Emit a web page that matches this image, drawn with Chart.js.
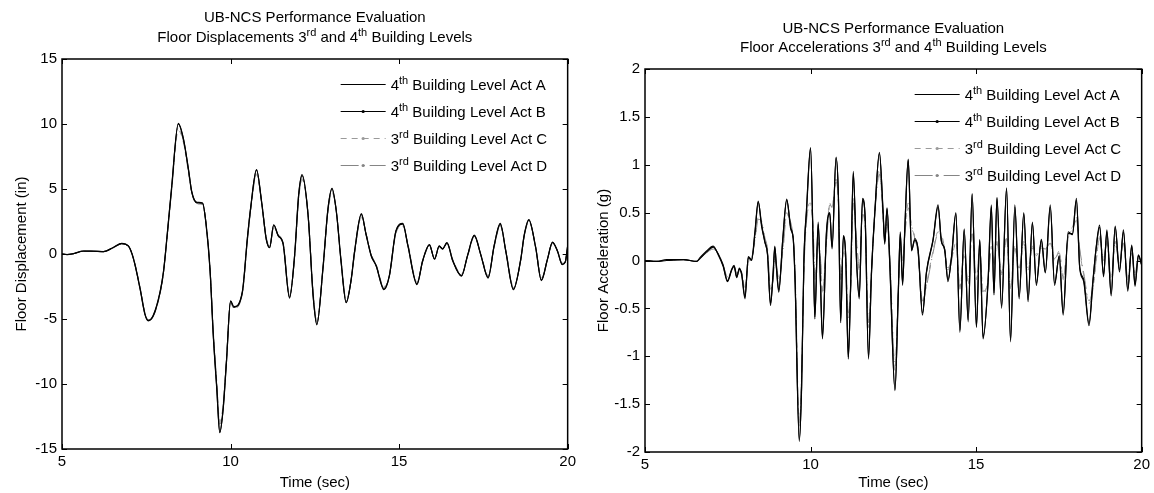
<!DOCTYPE html>
<html><head><meta charset="utf-8">
<script src="https://cdn.jsdelivr.net/npm/chart.js@4.4.1/dist/chart.umd.min.js"></script>
<style>
html,body{margin:0;padding:0;background:#fff;}
#wrap{position:relative;width:1154px;height:493px;overflow:hidden;background:#fff;}
canvas{position:absolute;top:0;}
#c1{left:0;} #c2{left:580px;}
</style></head><body>
<div id="wrap"><canvas id="c1" width="580" height="493"></canvas><canvas id="c2" width="574" height="493"></canvas></div>
<script>
// ---------------- DATA ----------------
const seriesLabels = ['4th Building Level Act A','4th Building Level Act B','3rd Building Level Act C','3rd Building Level Act D'];
const dispTitle = ['UB-NCS Performance Evaluation','Floor Displacements 3rd and 4th Building Levels'];
const accTitle  = ['UB-NCS Performance Evaluation','Floor Accelerations 3rd and 4th Building Levels'];
const xLabel = 'Time (sec)';
const dispYLabel = 'Floor Displacement (in)';
const accYLabel = 'Floor Acceleration (g)';
const xTicks = [5,10,15,20];
const xTickLabels = ['5','10','15','20'];
const dispYTicks = [-15,-10,-5,0,5,10,15];
const dispYTickLabels = ['-15','-10','-5','0','5','10','15'];
const accYTicks = [-2,-1.5,-1,-0.5,0,0.5,1,1.5,2];
const accYTickLabels = ['-2','-1.5','-1','-0.5','0','0.5','1','1.5','2'];

const dispTime = [
5.0,5.15,5.34,5.64,5.94,6.23,6.53,6.77,6.97,7.12,
7.32,7.46,7.56,7.71,7.91,8.01,8.11,8.25,8.45,8.6,
8.75,8.85,9.0,9.17,9.27,9.39,9.49,9.59,9.68,9.78,
9.88,10.0,10.1,10.35,10.5,10.6,10.77,10.92,11.06,11.16,
11.28,11.41,11.56,11.75,11.9,12.02,12.12,12.3,12.45,12.56,
12.74,12.89,13.01,13.14,13.28,13.43,13.58,13.68,13.88,14.02,
14.17,14.32,14.55,14.71,14.91,15.11,15.26,15.53,15.7,15.9,
16.05,16.19,16.29,16.42,16.59,16.85,17.03,17.23,17.43,17.64,
17.82,18.0,18.17,18.39,18.61,18.71,18.85,19.05,19.22,19.4,
19.55,19.7,19.84,19.93,20.0];
const dispActA = [
0,-0.05,0.02,0.22,0.22,0.18,0.5,0.8,0.62,-0.35,
-2.7,-4.6,-5.1,-4.75,-2.95,-1.4,1.15,5.0,10.0,8.85,
6.5,4.75,3.95,3.9,2.4,-1.15,-6.3,-10.2,-13.7,-11.9,
-8.2,-3.65,-4.1,-2.95,1.2,3.6,6.45,4.0,1.15,0.5,
2.23,1.41,0.77,-3.33,-0.13,4.49,6.03,2.95,-3.21,-5.4,
-1.15,3.46,5.0,3.21,-0.64,-3.72,-1.92,0.2,3.05,1.5,
-0.13,-0.9,-2.7,-1.67,1.8,2.3,0.64,-2.3,-0.5,0.7,
-0.38,0.6,0.38,0.85,-0.5,-1.67,-0.13,1.41,-0.13,-1.8,
0.64,2.3,0.13,-2.7,-0.38,1.41,2.6,0.5,-2.0,-0.4,
0.9,0.2,-0.8,-0.6,0.6];
const dispActB = [
0,-0.04,0.03,0.23,0.21,0.19,0.52,0.82,0.6,-0.38,
-2.75,-4.65,-5.15,-4.7,-2.9,-1.35,1.2,5.1,10.05,8.9,
6.55,4.8,3.98,3.92,2.35,-1.2,-6.4,-10.35,-13.75,-11.95,
-8.25,-3.6,-4.05,-2.9,1.25,3.65,6.5,4.05,1.1,0.48,
2.25,1.45,0.75,-3.4,-0.1,4.55,6.1,3.0,-3.25,-5.45,
-1.1,3.5,5.05,3.25,-0.6,-3.75,-1.95,0.22,3.1,1.52,
-0.1,-0.92,-2.75,-1.7,1.82,2.35,0.66,-2.35,-0.52,0.72,
-0.4,0.62,0.4,0.88,-0.52,-1.7,-0.12,1.45,-0.12,-1.85,
0.66,2.35,0.15,-2.75,-0.4,1.45,2.65,0.52,-2.05,-0.42,
0.92,0.22,-0.82,-0.62,0.62];
const dispActC = [
0,-0.05,0.02,0.2,0.2,0.17,0.48,0.76,0.6,-0.3,
-2.6,-4.5,-5.05,-4.8,-3.05,-1.5,1.0,4.8,9.5,8.6,
6.3,4.7,3.85,3.8,2.5,-1.0,-6.0,-9.8,-12.9,-11.6,
-8.0,-3.8,-4.2,-3.05,1.0,3.4,6.1,4.1,1.3,0.7,
2.0,1.5,0.9,-3.1,-0.3,4.2,5.7,3.1,-2.9,-5.1,
-1.3,3.2,4.7,3.3,-0.4,-3.5,-2.0,0.0,2.8,1.6,
0.0,-0.8,-2.5,-1.75,1.6,2.15,0.8,-2.15,-0.6,0.6,
-0.3,0.5,0.45,0.75,-0.4,-1.55,-0.2,1.3,-0.05,-1.65,
0.5,2.15,0.25,-2.5,-0.5,1.3,2.45,0.6,-1.85,-0.45,
0.8,0.25,-0.7,-0.55,0.5];
const dispActD = [
0,-0.04,0.02,0.21,0.2,0.18,0.49,0.78,0.61,-0.32,
-2.65,-4.55,-5.1,-4.78,-3.0,-1.45,1.05,4.9,9.7,8.7,
6.4,4.72,3.9,3.85,2.45,-1.05,-6.1,-9.95,-13.1,-11.7,
-8.05,-3.75,-4.15,-3.0,1.1,3.5,6.2,4.05,1.25,0.6,
2.1,1.45,0.85,-3.2,-0.2,4.3,5.8,3.05,-3.0,-5.2,
-1.2,3.3,4.8,3.25,-0.5,-3.6,-1.95,0.1,2.9,1.55,
-0.05,-0.85,-2.6,-1.7,1.7,2.2,0.7,-2.2,-0.55,0.65,
-0.35,0.55,0.42,0.8,-0.45,-1.6,-0.15,1.35,-0.1,-1.7,
0.55,2.2,0.2,-2.6,-0.45,1.35,2.5,0.55,-1.9,-0.42,
0.85,0.22,-0.75,-0.58,0.55];

const accTime = [
5.0,5.35,5.65,6.16,6.56,6.66,6.86,7.06,7.21,7.36,
7.49,7.62,7.69,7.77,7.85,7.92,8.02,8.12,8.22,8.32,
8.42,8.52,8.62,8.7,8.79,8.87,8.92,8.97,9.04,9.16,
9.28,9.4,9.48,9.53,9.66,9.73,9.8,9.88,10.0,10.08,
10.13,10.23,10.3,10.36,10.48,10.58,10.65,10.77,10.84,10.91,
10.99,11.06,11.14,11.21,11.29,11.39,11.47,11.57,11.65,11.75,
11.84,11.94,12.08,12.19,12.24,12.31,12.39,12.55,12.65,12.71,
12.78,12.85,12.95,13.05,13.15,13.25,13.38,13.5,13.7,13.85,
13.95,14.05,14.15,14.26,14.39,14.51,14.64,14.76,14.88,15.01,
15.11,15.21,15.36,15.46,15.54,15.63,15.77,15.92,16.04,16.17,
16.3,16.44,16.57,16.7,16.82,16.97,17.09,17.24,17.37,17.51,
17.63,17.78,17.91,18.03,18.13,18.25,18.41,18.53,18.63,18.73,
18.85,18.95,19.08,19.2,19.33,19.45,19.58,19.7,19.8,19.9,20.0];
const accActA = [
0,-0.01,0,0.01,-0.01,0.02,0.09,0.14,0.07,-0.05,
-0.21,-0.09,-0.05,-0.17,-0.09,-0.14,-0.38,0.03,0.0,0.28,
0.61,0.38,0.19,0.07,-0.45,-0.14,0.14,-0.07,-0.31,0.21,
0.63,0.35,0.21,-0.17,-1.87,-1.33,0.0,0.52,1.17,0.14,
-0.59,0.38,-0.23,-0.8,0.28,0.49,0.14,1.07,0.7,-0.63,
0.24,0.07,-1.01,-0.28,0.91,0.0,-0.38,0.63,0.45,-1.01,
-0.14,0.49,1.12,0.52,0.17,0.54,0.0,-1.35,-0.35,0.28,
-0.24,0.35,1.05,0.11,0.21,0.11,-0.55,-0.13,0.21,0.56,
0.21,0.11,-0.2,0.04,0.49,-0.73,0.32,-0.62,0.69,-0.69,
0.21,-0.8,-0.24,0.56,-0.34,0.65,-0.48,0.75,-0.83,0.56,
-0.38,0.49,-0.41,0.39,-0.24,0.21,-0.13,0.56,-0.24,0.04,
-0.55,0.28,0.28,0.63,-0.07,-0.2,-0.66,-0.2,0.14,0.35,
-0.15,0.3,-0.35,0.35,-0.1,0.3,-0.3,0.15,-0.25,0.05,-0.05];
const accActB = [
0,-0.01,0.01,0.01,-0.01,0.03,0.1,0.15,0.06,-0.06,
-0.22,-0.1,-0.06,-0.18,-0.08,-0.15,-0.4,0.04,0.01,0.3,
0.62,0.36,0.2,0.06,-0.47,-0.12,0.15,-0.08,-0.33,0.22,
0.64,0.33,0.22,-0.2,-1.89,-1.3,0.02,0.55,1.18,0.12,
-0.61,0.4,-0.25,-0.82,0.3,0.5,0.12,1.08,0.68,-0.65,
0.26,0.05,-1.03,-0.26,0.93,-0.02,-0.4,0.65,0.43,-1.03,
-0.12,0.5,1.13,0.5,0.19,0.55,-0.02,-1.36,-0.33,0.3,
-0.26,0.37,1.06,0.1,0.23,0.1,-0.57,-0.12,0.22,0.58,
0.2,0.12,-0.22,0.05,0.5,-0.75,0.33,-0.64,0.7,-0.7,
0.22,-0.82,-0.22,0.58,-0.36,0.66,-0.5,0.76,-0.85,0.58,
-0.4,0.5,-0.43,0.4,-0.26,0.22,-0.12,0.58,-0.26,0.05,
-0.57,0.3,0.27,0.65,-0.08,-0.22,-0.68,-0.22,0.15,0.37,
-0.17,0.32,-0.37,0.36,-0.12,0.32,-0.32,0.16,-0.27,0.06,-0.04];
const accActC = [
0,-0.01,0,0.01,-0.01,0.02,0.08,0.13,0.07,-0.04,
-0.18,-0.1,-0.07,-0.14,-0.1,-0.12,-0.3,-0.02,0.02,0.22,
0.45,0.4,0.22,0.1,-0.3,-0.18,0.05,-0.05,-0.22,0.1,
0.5,0.38,0.2,-0.1,-1.75,-1.2,-0.1,0.45,0.6,0.3,
-0.2,0.2,0.0,-0.35,0.2,0.6,0.55,0.85,0.6,-0.2,
0.1,0.0,-0.6,-0.3,0.65,0.2,-0.1,0.5,0.35,-0.7,
-0.1,0.5,0.95,0.45,0.2,0.4,0.05,-1.15,-0.3,0.15,
0.0,0.3,0.6,0.35,0.25,0.05,-0.45,-0.25,0.1,0.3,
0.25,0.1,-0.1,0.0,0.2,-0.3,0.05,-0.25,0.3,-0.2,
0.1,-0.35,-0.2,0.15,-0.05,0.2,-0.15,0.25,-0.3,0.15,
-0.1,0.2,-0.1,0.15,0.05,0.15,0.1,0.2,0.0,0.1,
-0.2,0.25,0.35,0.45,0.1,-0.15,-0.45,-0.3,0.0,0.25,
0.0,0.2,-0.2,0.2,-0.05,0.2,-0.2,0.1,-0.15,0.0,-0.05];
const accActD = [
0,-0.01,0,0.01,-0.01,0.02,0.08,0.12,0.06,-0.05,
-0.17,-0.11,-0.06,-0.13,-0.11,-0.13,-0.28,-0.03,0.03,0.2,
0.43,0.41,0.24,0.12,-0.28,-0.2,0.03,-0.04,-0.2,0.08,
0.48,0.4,0.22,-0.08,-1.7,-1.18,-0.12,0.42,0.58,0.32,
-0.18,0.18,0.02,-0.32,0.18,0.58,0.56,0.82,0.62,-0.18,
0.08,0.02,-0.55,-0.32,0.6,0.22,-0.08,0.48,0.36,-0.65,
-0.12,0.48,0.9,0.47,0.22,0.38,0.07,-1.1,-0.32,0.12,
0.02,0.28,0.55,0.37,0.23,0.07,-0.42,-0.27,0.08,0.28,
0.27,0.12,-0.08,0.02,0.18,-0.28,0.07,-0.22,0.28,-0.18,
0.12,-0.32,-0.22,0.13,-0.03,0.18,-0.13,0.23,-0.28,0.13,
-0.08,0.18,-0.08,0.13,0.07,0.13,0.12,0.18,0.02,0.08,
-0.18,0.23,0.33,0.42,0.12,-0.13,-0.42,-0.28,0.02,0.23,
0.02,0.18,-0.18,0.18,-0.03,0.18,-0.18,0.08,-0.13,0.02,-0.04];

// ---------------- STYLE ----------------
const FONT = '"Liberation Sans", Arial, Helvetica, sans-serif';
const FS = 15;
const seriesStyle = [
  {color:'#000000', width:1.2, dash:[], marker:false},
  {color:'#000000', width:1.2, dash:[], marker:true},
  {color:'#9a9a9a', width:1, dash:[6,5], marker:true},
  {color:'#858585', width:1, dash:[18,5,1,5], marker:true}
];

function richSegments(s){
  const out=[]; const re=/(\d)(st|nd|rd|th)\b/g; let last=0, m;
  while((m=re.exec(s))){ out.push({t:s.slice(last,m.index+1),sup:false}); out.push({t:m[2],sup:true}); last=m.index+m[0].length; }
  out.push({t:s.slice(last),sup:false});
  return out.filter(o=>o.t.length);
}
function drawRich(ctx, s, x, y, size, align){
  const segs=richSegments(s); const sup=Math.round(size*0.72); let w=0;
  segs.forEach(g=>{ctx.font=(g.sup?sup:size)+'px '+FONT; g.w=ctx.measureText(g.t).width; w+=g.w;});
  let cx = align==='center'? x-w/2 : (align==='right'? x-w : x);
  ctx.textAlign='left'; ctx.textBaseline='alphabetic'; ctx.fillStyle='#000';
  segs.forEach(g=>{ctx.font=(g.sup?sup:size)+'px '+FONT; ctx.fillText(g.t, cx, g.sup? y-size*0.4 : y); cx+=g.w;});
}

const framePlugin = {
  id:'frame',
  afterDatasetsDraw(chart){
    const {ctx, chartArea:{left,right,top,bottom}, scales} = chart;
    ctx.save(); ctx.setLineDash([]); ctx.strokeStyle='#000'; ctx.lineWidth=1.5;
    ctx.strokeRect(left,top,right-left,bottom-top);
    ctx.lineWidth=1; const L=5;
    ctx.beginPath();
    scales.x.ticks.forEach(t=>{ const px=Math.round(scales.x.getPixelForValue(t.value))+0.5;
      ctx.moveTo(px,bottom); ctx.lineTo(px,bottom-L); ctx.moveTo(px,top); ctx.lineTo(px,top+L); });
    scales.y.ticks.forEach(t=>{ const py=Math.round(scales.y.getPixelForValue(t.value))+0.5;
      ctx.moveTo(left,py); ctx.lineTo(left+L,py); ctx.moveTo(right,py); ctx.lineTo(right-L,py); });
    ctx.stroke(); ctx.restore();
  }
};
const textPlugin = {
  id:'richText',
  afterDraw(chart, args, opts){
    const {ctx, chartArea:{left,right,top}} = chart;
    ctx.save();
    const cx=(left+right)/2;
    opts.title.forEach((line,i)=> drawRich(ctx, line, cx, opts.titleY[i], FS, 'center'));
    // legend
    chart.data.datasets.forEach((ds,i)=>{
      const st=seriesStyle[i];
      const y=Math.round(top+opts.legTop+i*opts.legDy)+0.5;
      const x0=right-opts.legRight, x1=x0+opts.legLen;
      ctx.strokeStyle=st.color; ctx.lineWidth=1; ctx.setLineDash(st.dash);
      ctx.beginPath(); ctx.moveTo(x0,y); ctx.lineTo(x1,y); ctx.stroke(); ctx.setLineDash([]);
      if(st.marker){ ctx.fillStyle=st.color; ctx.beginPath(); ctx.arc((x0+x1)/2,y,1.6,0,Math.PI*2); ctx.fill(); }
      drawRich(ctx, ds.label, x1+5, y+5.5, FS, 'left');
    });
    ctx.restore();
  }
};

function makeChart(id, cfg){
  const datasets = cfg.series.map((vals,i)=>({
    label: seriesLabels[i],
    data: cfg.time.map((t,k)=>({x:t, y:vals[k]})),
    borderColor: seriesStyle[i].color, borderWidth: seriesStyle[i].width,
    borderDash: seriesStyle[i].dash, pointRadius:0, fill:false,
    cubicInterpolationMode:'monotone'
  }));
  const tickFont={family:FONT,size:FS};
  return new Chart(document.getElementById(id), {
    type:'line',
    data:{datasets},
    options:{
      responsive:false, animation:false, devicePixelRatio:1,
      layout:{padding:{left:0, top:cfg.top, right:cfg.rightPad, bottom:0}},
      plugins:{legend:{display:false}, title:{display:false}, tooltip:{enabled:false},
        richText:{title:cfg.title, titleY:cfg.titleY, legTop:24.5, legDy:27, legRight:227, legLen:45}},
      scales:{
        x:{type:'linear', min:5, max:20,
          afterBuildTicks:s=>{s.ticks=xTicks.map(v=>({value:v}));},
          afterFit:s=>{s.height=cfg.xH;},
          grid:{display:false, drawTicks:false}, border:{display:false},
          ticks:{color:'#000', font:tickFont, padding:4, maxRotation:0, autoSkip:false,
            callback:(v,i)=>xTickLabels[i]},
          title:{display:true, text:xLabel, color:'#000', font:tickFont, padding:{top:0,bottom:1}}},
        y:{type:'linear', min:cfg.yTicks[0], max:cfg.yTicks[cfg.yTicks.length-1],
          afterBuildTicks:s=>{s.ticks=cfg.yTicks.map(v=>({value:v}));},
          afterFit:s=>{s.width=cfg.yW;},
          grid:{display:false, drawTicks:false}, border:{display:false},
          ticks:{color:'#000', font:tickFont, padding:5, autoSkip:false,
            callback:(v,i)=>cfg.yTickLabels[i]},
          title:{display:true, text:cfg.yLabel, color:'#000', font:tickFont, padding:{top:cfg.yTitlePad,bottom:0}}}
      }
    },
    plugins:[framePlugin, textPlugin]
  });
}

makeChart('c1', {time:dispTime, series:[dispActA,dispActB,dispActC,dispActD],
  yTicks:dispYTicks, yTickLabels:dispYTickLabels, yLabel:dispYLabel, title:dispTitle,
  titleY:[22,42], top:59, rightPad:11, xH:44, yW:62, yTitlePad:13});
makeChart('c2', {time:accTime, series:[accActA,accActB,accActC,accActD],
  yTicks:accYTicks, yTickLabels:accYTickLabels, yLabel:accYLabel, title:accTitle,
  titleY:[33,52], top:69, rightPad:12, xH:41, yW:65, yTitlePad:15});
</script>
</body></html>
